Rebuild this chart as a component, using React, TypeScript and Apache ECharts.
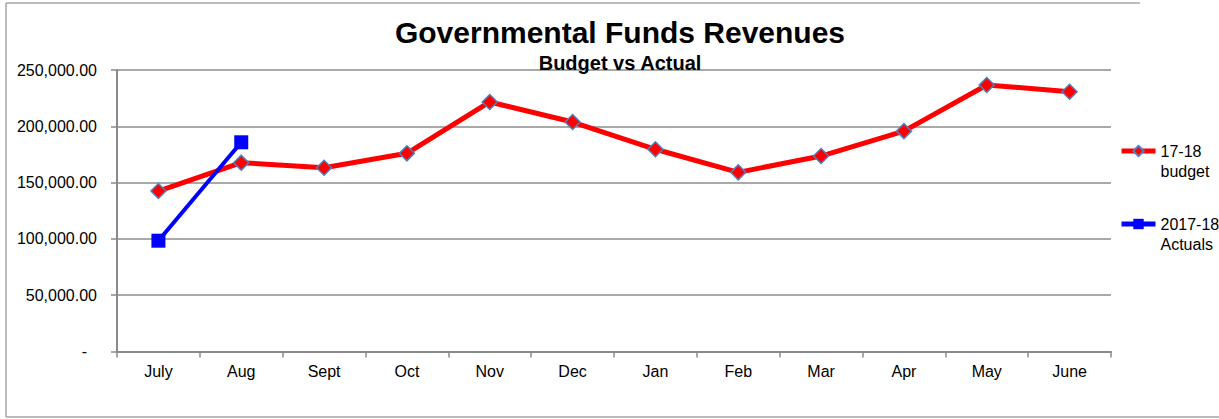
import React, { useEffect, useRef } from "react";
import * as echarts from "echarts";

const categories = ["July", "Aug", "Sept", "Oct", "Nov", "Dec", "Jan", "Feb", "Mar", "Apr", "May", "June"];
const budget = [142500, 167700, 163200, 176000, 221600, 203800, 179600, 159100, 173600, 195700, 236700, 230700];
const actuals: (number | null)[] = [98400, 185800, null, null, null, null, null, null, null, null, null, null];
const yTicks = { min: 0, max: 250000, interval: 50000 };

const FONT = "Arial, 'Liberation Sans', sans-serif";

export default function App() {
  const ref = useRef<HTMLDivElement>(null);
  useEffect(() => {
    if (!ref.current) return;
    const chart = echarts.init(ref.current, undefined, { renderer: "svg" });
    const fmt = (v: number) =>
      v === 0
        ? "{z|-}"
        : v.toLocaleString("en-US", { minimumFractionDigits: 2, maximumFractionDigits: 2 });
    const legendBase = {
      orient: "vertical",
      left: 1119,
      padding: 0,
      itemWidth: 34,
      itemHeight: 13,
      itemGap: 0,
      lineStyle: { width: 5 },
      formatter: (n: string) => "\n" + n.replace(" ", "\n"),
      textStyle: { fontFamily: FONT, fontSize: 16, color: "#000", lineHeight: 20 },
    };
    chart.setOption({
      animation: false,
      backgroundColor: "#ffffff",
      title: {
        text: "Governmental Funds Revenues",
        subtext: "Budget vs Actual",
        left: 620,
        textAlign: "center",
        top: 17,
        padding: 0,
        itemGap: 6,
        textStyle: { fontFamily: FONT, fontSize: 30, fontWeight: "bold", color: "#000" },
        subtextStyle: { fontFamily: FONT, fontSize: 20, fontWeight: "bold", color: "#000" },
      },
      grid: { left: 117, right: 108, top: 70, bottom: 67.5, containLabel: false },
      legend: [
        { ...legendBase, data: ["17-18 budget"], top: 121 },
        { ...legendBase, data: ["2017-18 Actuals"], top: 194 },
      ],
      xAxis: {
        type: "category",
        data: categories,
        boundaryGap: true,
        axisLine: { show: true, lineStyle: { color: "#8a8a8a", width: 2 } },
        axisTick: { show: true, inside: false, length: 6, alignWithLabel: false, lineStyle: { color: "#8a8a8a", width: 1.5 } },
        axisLabel: { fontFamily: FONT, fontSize: 16, color: "#000", margin: 12, interval: 0 },
        splitLine: { show: false },
      },
      yAxis: {
        type: "value",
        min: yTicks.min,
        max: yTicks.max,
        interval: yTicks.interval,
        axisLine: { show: true, lineStyle: { color: "#8a8a8a", width: 2 } },
        axisTick: { show: true, inside: false, length: 6, lineStyle: { color: "#8a8a8a", width: 1.5 } },
        axisLabel: {
          fontFamily: FONT,
          fontSize: 16,
          color: "#000",
          margin: 20,
          formatter: fmt,
          rich: { z: { fontFamily: FONT, fontSize: 16, color: "#000", padding: [0, 10, 0, 0] } },
        },
        splitLine: { show: true, lineStyle: { color: "#8c8c8c", width: 1.5 } },
      },
      series: [
        {
          name: "17-18 budget",
          type: "line",
          data: budget,
          symbol: "diamond",
          symbolSize: 15,
          lineStyle: { color: "#ff0000", width: 5 },
          itemStyle: { color: "#ff0000", borderColor: "#4f7fbd", borderWidth: 1.5 },
          z: 2,
        },
        {
          name: "2017-18 Actuals",
          type: "line",
          data: actuals,
          symbol: "rect",
          symbolSize: 14,
          lineStyle: { color: "#0000ff", width: 4 },
          itemStyle: { color: "#0000ff", borderColor: "#0000ff", borderWidth: 0 },
          z: 3,
        },
      ],
      graphic: [
        { type: "line", shape: { x1: 6, y1: 3, x2: 6, y2: 417 }, style: { stroke: "#a6a6a6", lineWidth: 1.5 } },
        { type: "line", shape: { x1: 6, y1: 3, x2: 1140, y2: 3 }, style: { stroke: "#a6a6a6", lineWidth: 1.5 } },
        { type: "line", shape: { x1: 6, y1: 417, x2: 1219, y2: 417 }, style: { stroke: "#a6a6a6", lineWidth: 1.5 } },
      ],
    });
    return () => chart.dispose();
  }, []);
  return <div ref={ref} style={{ position: "absolute", left: 0, top: 0, width: 1219, height: 419 }} />;
}
